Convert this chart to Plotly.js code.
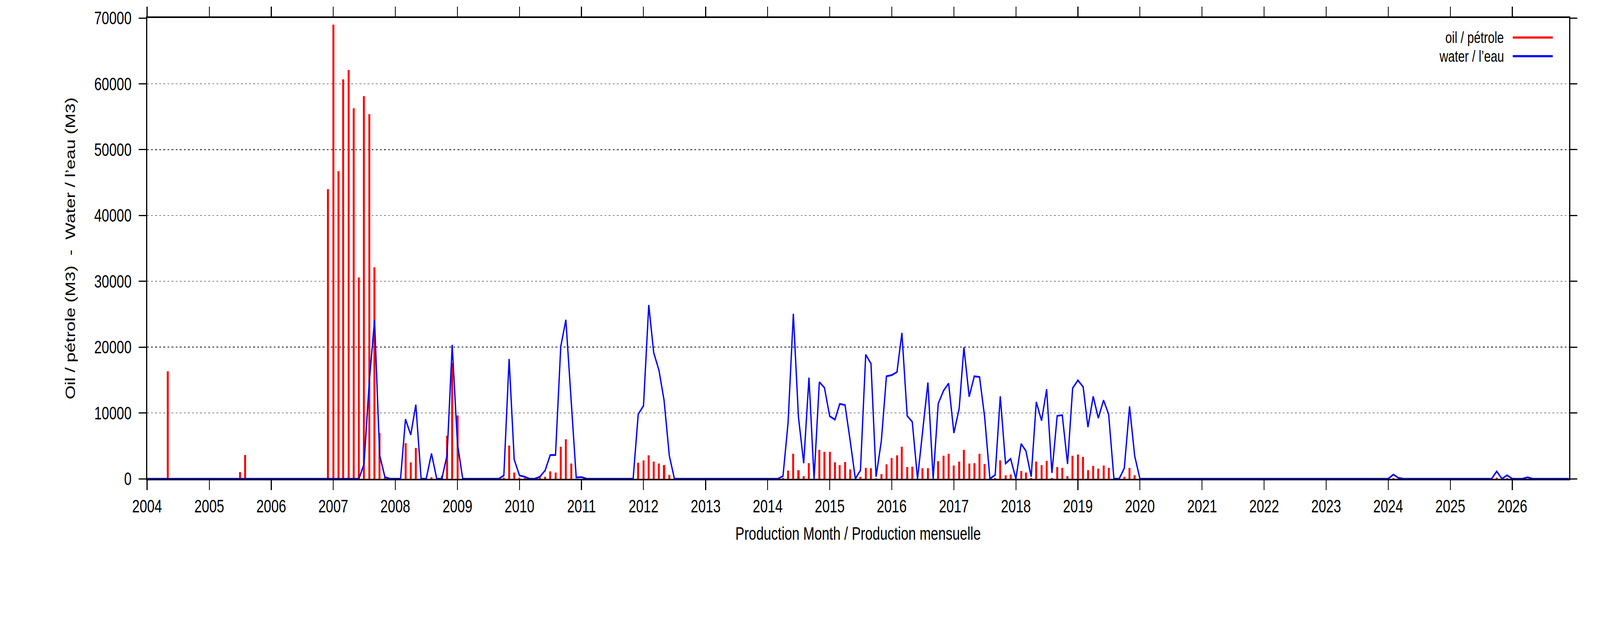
<!DOCTYPE html>
<html>
<head>
<meta charset="utf-8">
<script src="https://cdn.plot.ly/plotly-3.0.1.min.js"></script>
<style>
  html, body { margin: 0; padding: 0; background: #fff; overflow: hidden; }
  #chart { width: 5483px; height: 1594px; transform-origin: 0 0; }
</style>
</head>
<body>
<div id="chart"></div>
<script>
// ---- Data (monthly, Jan 2004 .. Dec 2026) ----
const firstYear = 2004;
const lastYear = 2026;

// Oil / pétrole (M3), one row per year (Jan..Dec)
const oil = [
  /*2004*/ 0,0,0,0,16300,0,0,0,0,0,0,0,
  /*2005*/ 0,0,0,0,0,0,1000,3650,0,0,0,0,
  /*2006*/ 0,0,0,0,0,0,0,0,0,0,0,44000,
  /*2007*/ 69000,46700,60700,62100,56300,30600,58100,55400,32100,6950,300,0,
  /*2008*/ 0,0,5380,2470,4680,0,0,230,0,500,6560,17600,
  /*2009*/ 9600,0,0,0,0,0,0,0,0,180,5040,930,
  /*2010*/ 180,140,0,0,180,270,1110,930,4860,5970,2290,0,
  /*2011*/ 0,0,0,0,0,0,0,0,0,0,0,2430,
  /*2012*/ 2790,3540,2590,2290,2070,590,0,0,0,0,0,0,
  /*2013*/ 0,0,0,0,0,0,0,0,0,0,0,0,
  /*2014*/ 0,0,0,140,1230,3790,1290,410,2360,0,4380,4090,
  /*2015*/ 4090,2470,2070,2540,1410,0,270,1660,1590,50,700,2180,
  /*2016*/ 3130,3540,4860,1770,1820,0,1590,1590,0,2660,3500,3790,
  /*2017*/ 2000,2590,4380,2290,2360,3790,2250,0,140,2790,520,640,
  /*2018*/ 0,1180,930,140,2590,2070,2720,140,1770,1660,410,3500,
  /*2019*/ 3660,3310,1290,1950,1520,2000,1660,0,0,270,1660,520,
  /*2020*/ 0,0,0,0,0,0,0,0,0,0,0,0,
  /*2021*/ 0,0,0,0,0,0,0,0,0,0,0,0,
  /*2022*/ 0,0,0,0,0,0,0,0,0,0,0,0,
  /*2023*/ 0,0,0,0,0,0,0,0,0,0,0,0,
  /*2024*/ 0,100,0,0,0,0,0,0,0,0,0,0,
  /*2025*/ 0,0,0,0,0,0,0,0,0,200,0,100,
  /*2026*/ 0,0,0,0,0,0,0,0,0,0,0,0
];

// Water / l'eau (M3)
const water = [
  /*2004*/ 0,0,0,0,0,0,0,0,0,0,0,0,
  /*2005*/ 0,0,0,0,0,0,0,0,0,0,0,0,
  /*2006*/ 0,0,0,0,0,0,0,0,0,0,0,0,
  /*2007*/ 0,0,0,0,0,0,2250,14800,24100,3600,250,0,
  /*2008*/ 0,0,9060,6670,11260,0,0,3840,0,0,3600,20340,
  /*2009*/ 5300,0,0,0,0,0,0,0,0,500,18200,2930,
  /*2010*/ 500,300,0,0,300,1270,3600,3600,20070,24150,12000,200,
  /*2011*/ 250,0,0,0,0,0,0,0,0,0,0,9800,
  /*2012*/ 11100,26400,19160,16480,11940,3500,0,0,0,0,0,0,
  /*2013*/ 0,0,0,0,0,0,0,0,0,0,0,0,
  /*2014*/ 0,0,0,400,8500,25060,9400,2360,15370,0,14690,13830,
  /*2015*/ 9510,8990,11370,11210,5880,0,1290,18860,17500,320,5770,15570,
  /*2016*/ 15750,16210,22160,9560,8650,0,7300,14620,0,11440,13370,14500,
  /*2017*/ 6950,10650,19950,12460,15570,15460,9400,0,590,12530,2320,3040,
  /*2018*/ 0,5310,4220,320,11670,8830,13600,890,9560,9670,2250,13760,
  /*2019*/ 14960,13940,7850,12510,9220,11940,9780,0,0,1610,10990,3500,
  /*2020*/ 0,0,0,0,0,0,0,0,0,0,0,0,
  /*2021*/ 0,0,0,0,0,0,0,0,0,0,0,0,
  /*2022*/ 0,0,0,0,0,0,0,0,0,0,0,0,
  /*2023*/ 0,0,0,0,0,0,0,0,0,0,0,0,
  /*2024*/ 0,650,140,0,0,0,0,0,0,0,0,0,
  /*2025*/ 0,0,0,0,0,0,0,0,0,1130,0,530,
  /*2026*/ 0,0,0,220,0,0,0,0,0,0,0,0
];

const seriesNames = ['oil / pétrole', 'water / l\u2019eau'];
const xTitle = 'Production Month / Production mensuelle';
const yTitle = 'Oil / pétrole (M3)  -  Water / l\u2019eau (M3)';

// month categories (first day of each month)
const months = [];
for (let y = firstYear; y <= lastYear; y++) {
  for (let m = 1; m <= 12; m++) {
    months.push(y + '-' + String(m).padStart(2, '0') + '-01');
  }
}

// The chart is laid out at the reference size (5483 x 1594) and the whole
// page is then fitted to the real viewport.
const W0 = 5483, H0 = 1594;
const vw = window.innerWidth || W0, vh = window.innerHeight || H0;
const el = document.getElementById('chart');
if (Math.abs(vw - W0) > 1 || Math.abs(vh - H0) > 1) {
  el.style.transform = 'scale(' + (vw / W0) + ',' + (vh / H0) + ')';
}

const RED = '#ff0000';
const BLUE = '#0000ff';
const FONT = "'Liberation Sans', Arial, Helvetica, sans-serif";
const FS = 46;
const LEG_FS = 41;
const DAY = 86400000;

const traces = [
  {
    type: 'bar',
    x: months,
    y: oil,
    width: months.map(() => 11.6 * DAY),
    marker: { color: RED, line: { width: 0 } },
    name: seriesNames[0],
    showlegend: false
  },
  {
    type: 'scatter',
    mode: 'lines',
    x: months,
    y: water,
    line: { color: BLUE, width: 4.5 },
    name: seriesNames[1],
    showlegend: false
  }
];

// custom legend (text left, sample line right, like the original)
const legX = 0.9545, lineX0 = 0.9604, lineX1 = 0.9885;
const legY = [0.9575, 0.9170];
const legColors = [RED, BLUE];

const annotations = seriesNames.map((n, i) => ({
  xref: 'paper', yref: 'paper', x: legX, y: legY[i],
  xanchor: 'right', yanchor: 'middle', showarrow: false,
  borderpad: 0,
  text: n, font: { family: FONT, size: LEG_FS, color: '#000' }
}));
const shapes = seriesNames.map((n, i) => ({
  type: 'line', xref: 'paper', yref: 'paper',
  x0: lineX0, x1: lineX1, y0: legY[i], y1: legY[i],
  line: { color: legColors[i], width: 5.5 }
}));

const layout = {
  width: W0,
  height: H0,
  paper_bgcolor: '#fff',
  plot_bgcolor: '#fff',
  margin: { l: 504, r: 106, t: 46, b: 369, pad: 0 },
  font: { family: FONT, size: FS, color: '#000' },
  showlegend: false,
  bargap: 0,
  xaxis: {
    type: 'date',
    range: ['2004-01-01', '2026-12-01'],
    tick0: '2004-01-01',
    dtick: 'M12',
    tickformat: '%Y',
    ticks: 'outside',
    ticklen: 25,
    tickwidth: 3,
    tickcolor: '#000',
    showline: true,
    linewidth: 4,
    linecolor: '#000',
    mirror: 'ticks',
    showgrid: false,
    zeroline: false,
    layer: 'below traces',
    tickfont: { family: FONT, size: FS, color: '#000' },
    ticklabelstandoff: 2,
    title: { text: xTitle, font: { family: FONT, size: FS, color: '#000' }, standoff: 30 }
  },
  yaxis: {
    range: [0, 70000],
    dtick: 10000,
    tick0: 0,
    ticks: 'outside',
    ticklen: 25,
    tickwidth: 3,
    tickcolor: '#000',
    showline: true,
    linewidth: 4,
    linecolor: '#000',
    mirror: 'ticks',
    showgrid: true,
    gridcolor: '#000',
    gridwidth: 1.5,
    griddash: '6px,8px',
    zeroline: false,
    layer: 'below traces',
    tickformat: 'd',
    tickfont: { family: FONT, size: FS, color: '#000' },
    ticklabelstandoff: 15,
    title: { text: yTitle, font: { family: FONT, size: FS, color: '#000' }, standoff: 52 }
  },
  annotations: annotations,
  shapes: shapes
};

Plotly.newPlot('chart', traces, layout, { staticPlot: true, displayModeBar: false });
</script>
</body>
</html>
